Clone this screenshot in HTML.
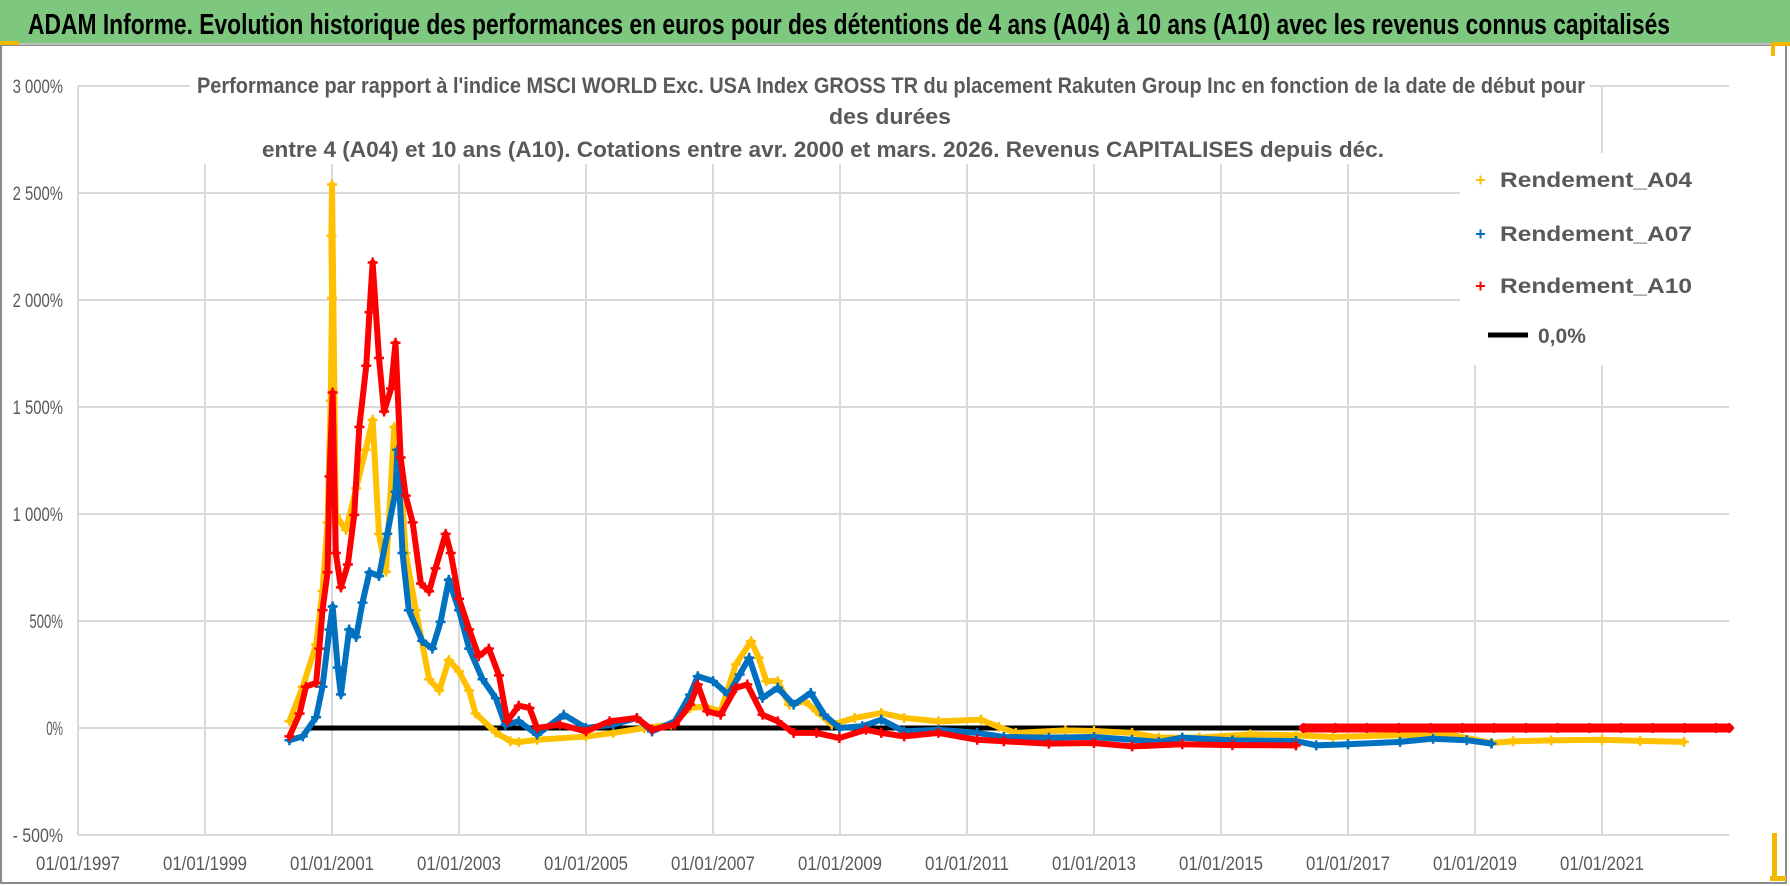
<!DOCTYPE html>
<html><head><meta charset="utf-8"><style>
html,body{margin:0;padding:0;background:#fff;}
svg{display:block;font-family:"Liberation Sans",sans-serif;}
</style></head><body>
<svg id="chart" width="1790" height="886" viewBox="0 0 1790 886" xmlns="http://www.w3.org/2000/svg">
<rect x="0" y="0" width="1790" height="886" fill="#ffffff"/>
<rect x="1" y="45" width="1785" height="838" fill="#fff" stroke="#8c8c8c" stroke-width="2"/>
<rect x="0" y="0" width="1790" height="43" fill="#7dc77e"/>
<line x1="0" y1="44" x2="1790" y2="44" stroke="#bfbfbf" stroke-width="2"/>
<rect x="0" y="41" width="19" height="4" fill="#f5b800"/>
<rect x="1771" y="42" width="4" height="14" fill="#f5b800"/>
<rect x="1771" y="42" width="19" height="4" fill="#f5b800"/>
<rect x="1772" y="833" width="5" height="46" fill="#f5b800"/>
<rect x="1770" y="876" width="16" height="5" fill="#f5b800"/>
<text x="28" y="34" font-size="29" font-weight="bold" fill="#000" textLength="1642" lengthAdjust="spacingAndGlyphs">ADAM Informe. Evolution historique des performances en euros pour des détentions de 4 ans (A04) à 10 ans (A10) avec les revenus connus capitalisés</text>
<g id="grid"></g>
<g id="series"></g>
<rect x="190" y="64" width="1400" height="100" fill="#fff"/>
<text x="197" y="93" font-size="22" font-weight="bold" fill="#595959" textLength="1388" lengthAdjust="spacingAndGlyphs">Performance par rapport à l'indice MSCI WORLD Exc. USA Index GROSS TR  du placement Rakuten Group Inc en fonction de la date de début pour</text>
<text x="890" y="124" font-size="22" font-weight="bold" fill="#595959" text-anchor="middle" textLength="122" lengthAdjust="spacingAndGlyphs">des durées</text>
<text x="262" y="157" font-size="22" font-weight="bold" fill="#595959" textLength="1122" lengthAdjust="spacingAndGlyphs">entre 4 (A04) et 10 ans (A10). Cotations entre avr. 2000 et mars. 2026. Revenus CAPITALISES depuis déc.</text>
<g id="legend">
<rect x="1460" y="153" width="272" height="212" fill="#fff"/>
<g><path d="M1476 180h9M1480.5 175.5v9" stroke="#ffc000" stroke-width="2"/><text x="1500" y="187" font-size="21" font-weight="bold" fill="#595959" textLength="192" lengthAdjust="spacingAndGlyphs">Rendement_A04</text></g>
<g><path d="M1476 234h9M1480.5 229.5v9" stroke="#0070c0" stroke-width="2"/><text x="1500" y="241" font-size="21" font-weight="bold" fill="#595959" textLength="192" lengthAdjust="spacingAndGlyphs">Rendement_A07</text></g>
<g><path d="M1476 286h9M1480.5 281.5v9" stroke="#ff0000" stroke-width="2"/><text x="1500" y="293" font-size="21" font-weight="bold" fill="#595959" textLength="192" lengthAdjust="spacingAndGlyphs">Rendement_A10</text></g>
<g><line x1="1488" y1="335" x2="1528" y2="335" stroke="#000" stroke-width="5"/><text x="1538" y="343" font-size="21" font-weight="bold" fill="#595959">0,0%</text></g>
</g>
</svg>
<script>
const yTicks = [-500, 0, 500, 1000, 1500, 2000, 2500, 3000];
const yTickLabels = ["- 500%", "0%", "500%", "1 000%", "1 500%", "2 000%", "2 500%", "3 000%"];
const xTicks = [1997, 1999, 2001, 2003, 2005, 2007, 2009, 2011, 2013, 2015, 2017, 2019, 2021];
const xTickLabels = ["01/01/1997","01/01/1999","01/01/2001","01/01/2003","01/01/2005","01/01/2007","01/01/2009","01/01/2011","01/01/2013","01/01/2015","01/01/2017","01/01/2019","01/01/2021"];
const a04Dates = [2000.33,2000.54,2000.75,2000.85,2000.93,2000.98,2001.0,2000.99,2001.0,2001.06,2001.22,2001.38,2001.53,2001.64,2001.74,2001.85,2001.98,2002.06,2002.16,2002.32,2002.53,2002.69,2002.84,2003.0,2003.16,2003.26,2003.58,2003.81,2003.94,2004.23,2005.0,2005.43,2005.92,2006.34,2006.64,2006.88,2007.12,2007.36,2007.6,2007.72,2007.84,2008.02,2008.2,2008.45,2008.63,2008.87,2009.23,2009.65,2010.01,2010.55,2011.22,2011.5,2011.77,2012.55,2013.0,2013.6,2014.02,2014.66,2015.46,2016.18,2016.76,2017.8,2018.6,2019.26,2019.6,2020.2,2021.0,2021.6,2022.29];
const a04Values = [32,193,390,640,960,1530,2010,2300,2540,995,925,1120,1300,1440,907,730,1407,1264,818,550,228,175,318,264,175,68,-21,-62,-66,-55,-40,-23,0,16,94,100,78,297,406,328,219,219,109,125,78,16,47,70,47,31,39,5,-23,-11,-14,-23,-45,-45,-30,-34,-42,-34,-30,-70,-62,-58,-55,-60,-65];
const a07Dates = [2000.33,2000.54,2000.75,2000.85,2000.96,2001.01,2001.09,2001.14,2001.27,2001.38,2001.48,2001.59,2001.74,2001.87,2002.0,2002.03,2002.11,2002.21,2002.42,2002.58,2002.71,2002.84,2003.0,2003.16,2003.37,2003.58,2003.73,2003.94,2004.23,2004.65,2005.0,2005.43,2005.8,2006.04,2006.4,2006.64,2006.76,2007.0,2007.24,2007.42,2007.57,2007.78,2008.02,2008.27,2008.54,2008.75,2008.99,2009.35,2009.65,2010.01,2010.55,2011.16,2011.58,2012.29,2013.0,2013.6,2014.02,2014.39,2015.18,2016.18,2016.5,2017.0,2017.82,2018.34,2018.87,2019.26];
const a07Values = [-57,-39,50,193,460,568,282,157,460,425,586,728,710,907,1104,1300,818,550,407,371,496,693,550,371,228,139,14,32,-31,62,0,16,47,-16,31,156,242,219,156,250,328,141,188,109,164,62,0,8,39,-16,-8,-23,-42,-45,-42,-55,-65,-45,-58,-61,-81,-76,-65,-50,-57,-73];
const a10Dates = [2000.33,2000.49,2000.59,2000.75,2000.8,2000.85,2000.93,2000.96,2001.01,2001.06,2001.14,2001.25,2001.35,2001.43,2001.54,2001.59,2001.64,2001.74,2001.82,2001.93,2002.0,2002.08,2002.16,2002.27,2002.4,2002.53,2002.63,2002.79,2002.87,2003.0,2003.16,2003.31,2003.47,2003.63,2003.76,2003.94,2004.11,2004.23,2004.59,2005.0,2005.37,2005.8,2006.04,2006.4,2006.64,2006.76,2006.91,2007.12,2007.36,2007.54,2007.78,2008.02,2008.27,2008.63,2008.99,2009.41,2009.65,2010.01,2010.55,2011.16,2011.58,2012.29,2013.0,2013.6,2014.39,2015.18,2016.18];
const a10Values = [-39,68,193,211,371,550,728,1175,1568,818,657,764,996,1407,1693,1943,2175,1729,1479,1586,1800,1264,1086,961,675,639,746,907,818,604,461,336,371,246,32,104,94,0,16,-16,31,47,-8,16,109,203,78,62,188,203,62,31,-23,-23,-47,-8,-23,-39,-23,-55,-62,-73,-70,-86,-76,-80,-81];
const a10FlatDates = [2016.3,2016.8,2017.3,2017.8,2018.3,2018.8,2019.3,2019.8,2020.3,2020.8,2021.3,2021.8,2022.3,2022.8,2023.0];
const a10FlatValues = [0,0,0,0,0,0,0,0,0,0,0,0,0,0,0];
const zeroLineDates = [2000.62, 2023.0];
const zeroLineValues = [0, 0];

const X0 = 78, X1 = 1729, Y0 = 835, Y1 = 86;
const xMin = 1997, xMax = 2023, yMin = -500, yMax = 3000;
function xs(v){ return X0 + (v - xMin) / (xMax - xMin) * (X1 - X0); }
function ys(v){ return Y0 - (v - yMin) / (yMax - yMin) * (Y0 - Y1); }
const NS = "http://www.w3.org/2000/svg";
function mk(tag, attrs, parent){ const e = document.createElementNS(NS, tag); for (const k in attrs) e.setAttribute(k, attrs[k]); parent.appendChild(e); return e; }
const grid = document.getElementById('grid');
const series = document.getElementById('series');

yTicks.forEach((t, i) => {
  const l = mk('line', {x1: X0, x2: X1, y1: ys(t), y2: ys(t), stroke: '#d9d9d9', 'stroke-width': 2}, grid);
  
  
  const lbl = yTickLabels[i];
  const tx = mk('text', {x: 63, y: ys(t) + 7, 'font-size': 19, fill: '#595959', 'text-anchor': 'end', textLength: lbl.length * 8.4, lengthAdjust: 'spacingAndGlyphs'}, grid);
  tx.textContent = lbl;
  
  
});
xTicks.forEach((t, i) => {
  const l = mk('line', {x1: xs(t), x2: xs(t), y1: Y1, y2: Y0, stroke: '#d9d9d9', 'stroke-width': 2}, grid);
  
  
  const tx = mk('text', {x: xs(t), y: 870, 'font-size': 19, fill: '#595959', 'text-anchor': 'middle', textLength: 84, lengthAdjust: 'spacingAndGlyphs'}, grid);
  tx.textContent = xTickLabels[i];
  
  
});

const zl = mk('polyline', {points: zeroLineDates.map((d, i) => xs(d) + ',' + ys(zeroLineValues[i])).join(' '), fill: 'none', stroke: '#000', 'stroke-width': 5}, series);



function drawSeries(dates, vals, color, name, width){
  const g = mk('g', {}, series);
  
  
  const pl = mk('polyline', {points: dates.map((d, i) => xs(d) + ',' + ys(vals[i])).join(' '), fill: 'none', stroke: color, 'stroke-width': width, 'stroke-linejoin': 'round', 'stroke-linecap': 'round'}, g);
  
  
  dates.forEach((d, i) => {
    const x = xs(d), y = ys(vals[i]);
    const p = mk('path', {d: 'M' + (x - 5) + ' ' + y + 'h10M' + x + ' ' + (y - 5) + 'v10', stroke: color, 'stroke-width': 2.5}, g);
    
    
  });
}
drawSeries(a04Dates, a04Values, '#ffc000', 'series-a04', 6);
drawSeries(a07Dates, a07Values, '#0070c0', 'series-a07', 6);
drawSeries(a10Dates, a10Values, '#ff0000', 'series-a10', 6);
drawSeries(a10FlatDates, a10FlatValues, '#ff0000', 'series-a10-flat', 9);
</script>
</body></html>
